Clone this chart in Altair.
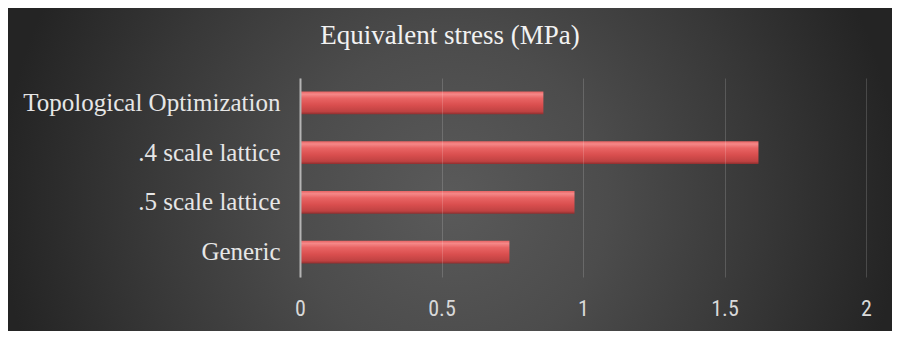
import altair as alt
import pandas as pd

categories = ["Topological Optimization\u00a0", ".4 scale lattice", ".5 scale lattice", "Generic"]
stress = [0.86, 1.62, 0.97, 0.74]
x_ticks = [0, 0.5, 1, 1.5, 2]
title_text = ["Equivalent stress (MPa)"]

df = pd.DataFrame({"category": categories, "stress": stress})
one = pd.DataFrame({"t": title_text})

W, H = 566, 199
PL, PT, PR, PB = 292, 70, 26, 54

bg = alt.Chart(one).mark_rect(
    color=alt.Gradient(
        gradient="radial", x1=0.5, y1=0.5, r1=0, x2=0.5, y2=0.5, r2=0.5,
        stops=[
            alt.GradientStop(offset=0, color="#5a5a5a"),
            alt.GradientStop(offset=0.35, color="#4c4c4c"),
            alt.GradientStop(offset=0.7, color="#373737"),
            alt.GradientStop(offset=1, color="#242424"),
        ],
    ),
    clip=False,
).encode(x=alt.value(-300), x2=alt.value(600), y=alt.value(-328), y2=alt.value(572))

bars = alt.Chart(df).mark_bar(
    color=alt.Gradient(
        gradient="linear", x1=0, y1=0, x2=0, y2=1,
        stops=[
            alt.GradientStop(offset=0, color="#e86262"),
            alt.GradientStop(offset=0.12, color="#f58888"),
            alt.GradientStop(offset=0.3, color="#e96464"),
            alt.GradientStop(offset=0.6, color="#d94e4e"),
            alt.GradientStop(offset=0.88, color="#bf4242"),
            alt.GradientStop(offset=1, color="#8e2e2e"),
        ],
    )
).encode(
    y=alt.Y(
        "category:N", sort=categories,
        scale=alt.Scale(paddingInner=0.54, paddingOuter=0.27),
        axis=alt.Axis(
            title=None, ticks=False, grid=False, domain=True,
            domainColor="#b4b4b4", domainWidth=2,
            labelFont="Liberation Serif", labelFontSize=25, labelColor="#e6e6e6",
            labelPadding=20, labelLimit=400, zindex=1,
        ),
    ),
    x=alt.X(
        "stress:Q",
        scale=alt.Scale(domain=[0, 2], nice=False),
        axis=alt.Axis(
            title=None, values=x_ticks, format="~g", ticks=False, domain=False,
            grid=True, gridColor="#ffffff", gridOpacity=0.16, gridWidth=1,
            labelFont="Liberation Sans Narrow, Roboto Condensed, Roboto",
            labelFontSize=22, labelColor="#d9d9d9", labelBaseline="alphabetic",
            labelPadding=38, labelFlush=False, zindex=1,
        ),
    ),
)

title = alt.Chart(one).mark_text(
    align="center", baseline="alphabetic", font="Liberation Serif",
    fontSize=27, color="#f2f2f2",
).encode(x=alt.value(150), y=alt.value(-34), text="t:N")

chart = alt.layer(bg, bars, title).properties(
    width=W, height=H,
    autosize=alt.AutoSizeParams(type="none"),
    padding={"left": PL, "top": PT, "right": PR, "bottom": PB},
).configure(background="#333333").configure_view(stroke=None)

chart.save("out.html", embed_options={"renderer": "svg", "actions": False})
